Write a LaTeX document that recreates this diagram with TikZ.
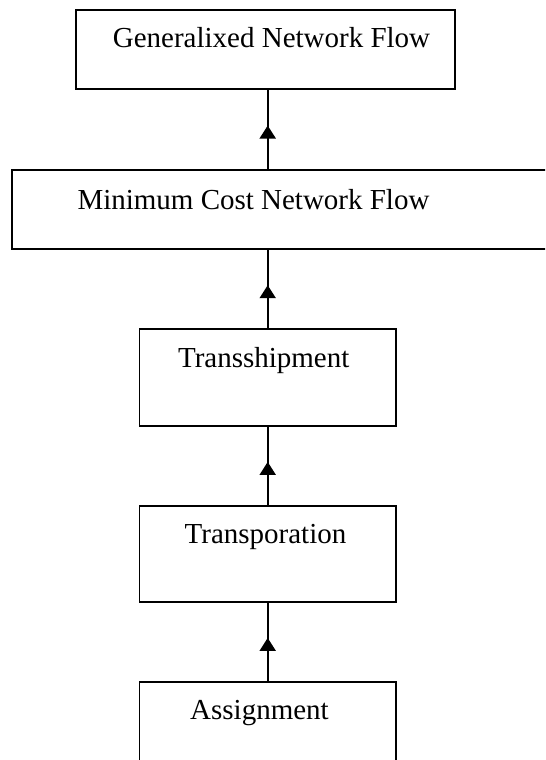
\documentclass[tikz,border=0pt]{standalone}
\usepackage{fontspec}
\setmainfont{Liberation Serif}
\usetikzlibrary{arrows.meta,decorations.markings}

\begin{document}
\begin{tikzpicture}[x=0.02cm, y=0.02cm, inner sep=0pt,
  box/.style={rectangle, draw=black, line width=1.1pt, minimum height=1.58cm},
  lbl/.style={anchor=base, font=\fontsize{16.5}{20}\selectfont},
  up/.style={line width=1.1pt, postaction={decorate}, decoration={markings,
    mark=at position 0.55 with {\arrow{Triangle[width=0.32cm,length=0.26cm]}}}}]
\clip (0,0) rectangle (545,760);
\node (gen) at (265.5,710.5) [box, minimum width=7.58cm] {};
\node (mcnf) at (285.9,550.5) [box, minimum width=10.96cm] {};
\node (trans) at (267.7,382.5) [box, minimum width=5.13cm, minimum height=1.93cm] {};
\node (tpt) at (267.7,206.1) [box, minimum width=5.13cm, minimum height=1.92cm] {};
\node (asg) at (267.7,30.3) [box, minimum width=5.13cm, minimum height=1.92cm] {};
\node (tgen) at (271.5,712.3) [lbl] {Generalixed Network Flow};
\node (tmcnf) at (253.5,550.3) [lbl] {Minimum Cost Network Flow};
\node (ttrans) at (263.7,392) [lbl] {Transshipment};
\node (ttpt) at (265.5,216) [lbl] {Transporation};
\node (tasg) at (259.5,40) [lbl] {Assignment};
\draw[up] (asg.north) -- (tpt.south);
\draw[up] (tpt.north) -- (trans.south);
\draw[up] (trans.north) -- (trans.north |- mcnf.south);
\draw[up] (trans.north |- mcnf.north) -- (trans.north |- gen.south);
\end{tikzpicture}
\end{document}
